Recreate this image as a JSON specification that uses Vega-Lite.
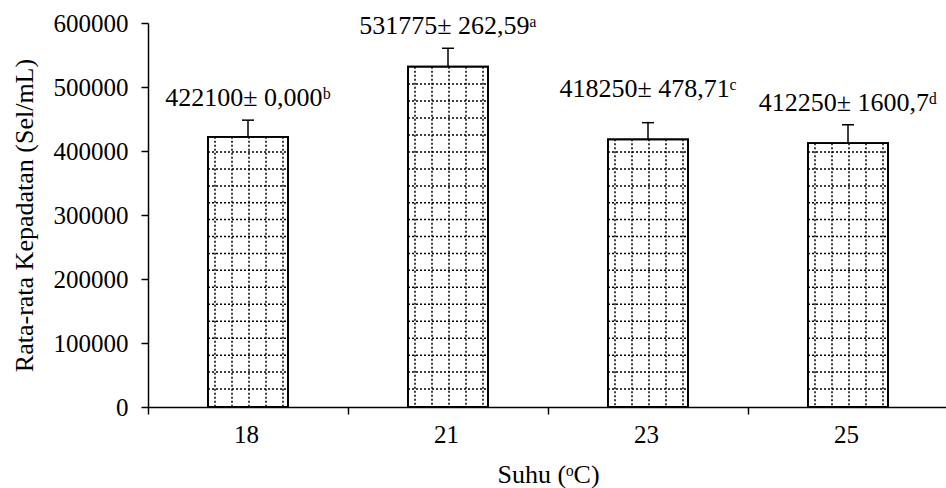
{
"$schema": "https://vega.github.io/schema/vega-lite/v6.json",
"width": 800, "height": 384,
"autosize": "none",
"padding": {"left": 148, "top": 23, "right": 0, "bottom": 81},
"background": "white",
"config": {
  "font": "Liberation Serif",
  "view": {"stroke": null},
  "axis": {"labelFont": "Liberation Serif", "titleFont": "Liberation Serif", "labelColor": "black", "titleColor": "black", "domainColor": "black", "tickColor": "black", "labelFontSize": 25, "titleFontSize": 26, "titleFontWeight": "normal", "grid": false, "domainWidth": 1.5, "tickWidth": 1.5}
},
"data": {"values": [
  {"suhu": "18", "mean": 422100, "upper": 448200, "label": "422100± 0,000ᵇ"},
  {"suhu": "21", "mean": 531775, "upper": 560500, "label": "531775± 262,59ᵃ"},
  {"suhu": "23", "mean": 418250, "upper": 444250, "label": "418250± 478,71ᶜ"},
  {"suhu": "25", "mean": 412250, "upper": 441000, "label": "412250± 1600,7ᵈ"}
]},
"encoding": {
  "x": {"field": "suhu", "type": "ordinal", "scale": {"paddingInner": 0.6, "paddingOuter": 0.3},
        "axis": {"title": "Suhu (ᵒC)", "labelAngle": 0, "bandPosition": 0, "tickOffset": -60, "labelOffset": 58, "tickSize": 7, "labelPadding": 8, "titlePadding": 14}}
},
"layer": [
  {"mark": {"type": "bar", "fill": "white", "stroke": "black", "strokeWidth": 1.8},
   "encoding": {"y": {"field": "mean", "type": "quantitative", "scale": {"domain": [0, 600000], "nice": false},
     "axis": {"title": "Rata-rata Kepadatan (Sel/mL)", "values": [0, 100000, 200000, 300000, 400000, 500000, 600000], "format": "d", "tickSize": 7, "labelPadding": 13, "titlePadding": 16}}}},
  {"mark": {"type": "rule", "color": "black", "strokeWidth": 1.5, "strokeDash": [2, 2], "xOffset": -33}, "encoding": {"y": {"field": "mean", "type": "quantitative"}, "y2": {"datum": 0}}},
  {"mark": {"type": "rule", "color": "black", "strokeWidth": 1.5, "strokeDash": [2, 2], "xOffset": -16}, "encoding": {"y": {"field": "mean", "type": "quantitative"}, "y2": {"datum": 0}}},
  {"mark": {"type": "rule", "color": "black", "strokeWidth": 1.5, "strokeDash": [2, 2], "xOffset": 1}, "encoding": {"y": {"field": "mean", "type": "quantitative"}, "y2": {"datum": 0}}},
  {"mark": {"type": "rule", "color": "black", "strokeWidth": 1.5, "strokeDash": [2, 2], "xOffset": 18}, "encoding": {"y": {"field": "mean", "type": "quantitative"}, "y2": {"datum": 0}}},
  {"mark": {"type": "rule", "color": "black", "strokeWidth": 1.5, "strokeDash": [2, 2], "xOffset": 35}, "encoding": {"y": {"field": "mean", "type": "quantitative"}, "y2": {"datum": 0}}},
  {"transform": [{"filter": "datum.mean > 28000"}], "mark": {"type": "rule", "color": "black", "strokeWidth": 1.5, "strokeDash": [2, 2], "xOffset": -40, "x2Offset": 40}, "encoding": {"x": {"field": "suhu", "type": "ordinal"}, "x2": {"field": "suhu"}, "y": {"datum": 28000, "type": "quantitative"}}},
  {"transform": [{"filter": "datum.mean > 54500"}], "mark": {"type": "rule", "color": "black", "strokeWidth": 1.5, "strokeDash": [2, 2], "xOffset": -40, "x2Offset": 40}, "encoding": {"x": {"field": "suhu", "type": "ordinal"}, "x2": {"field": "suhu"}, "y": {"datum": 54500, "type": "quantitative"}}},
  {"transform": [{"filter": "datum.mean > 81000"}], "mark": {"type": "rule", "color": "black", "strokeWidth": 1.5, "strokeDash": [2, 2], "xOffset": -40, "x2Offset": 40}, "encoding": {"x": {"field": "suhu", "type": "ordinal"}, "x2": {"field": "suhu"}, "y": {"datum": 81000, "type": "quantitative"}}},
  {"transform": [{"filter": "datum.mean > 107500"}], "mark": {"type": "rule", "color": "black", "strokeWidth": 1.5, "strokeDash": [2, 2], "xOffset": -40, "x2Offset": 40}, "encoding": {"x": {"field": "suhu", "type": "ordinal"}, "x2": {"field": "suhu"}, "y": {"datum": 107500, "type": "quantitative"}}},
  {"transform": [{"filter": "datum.mean > 134000"}], "mark": {"type": "rule", "color": "black", "strokeWidth": 1.5, "strokeDash": [2, 2], "xOffset": -40, "x2Offset": 40}, "encoding": {"x": {"field": "suhu", "type": "ordinal"}, "x2": {"field": "suhu"}, "y": {"datum": 134000, "type": "quantitative"}}},
  {"transform": [{"filter": "datum.mean > 160500"}], "mark": {"type": "rule", "color": "black", "strokeWidth": 1.5, "strokeDash": [2, 2], "xOffset": -40, "x2Offset": 40}, "encoding": {"x": {"field": "suhu", "type": "ordinal"}, "x2": {"field": "suhu"}, "y": {"datum": 160500, "type": "quantitative"}}},
  {"transform": [{"filter": "datum.mean > 187000"}], "mark": {"type": "rule", "color": "black", "strokeWidth": 1.5, "strokeDash": [2, 2], "xOffset": -40, "x2Offset": 40}, "encoding": {"x": {"field": "suhu", "type": "ordinal"}, "x2": {"field": "suhu"}, "y": {"datum": 187000, "type": "quantitative"}}},
  {"transform": [{"filter": "datum.mean > 213500"}], "mark": {"type": "rule", "color": "black", "strokeWidth": 1.5, "strokeDash": [2, 2], "xOffset": -40, "x2Offset": 40}, "encoding": {"x": {"field": "suhu", "type": "ordinal"}, "x2": {"field": "suhu"}, "y": {"datum": 213500, "type": "quantitative"}}},
  {"transform": [{"filter": "datum.mean > 240000"}], "mark": {"type": "rule", "color": "black", "strokeWidth": 1.5, "strokeDash": [2, 2], "xOffset": -40, "x2Offset": 40}, "encoding": {"x": {"field": "suhu", "type": "ordinal"}, "x2": {"field": "suhu"}, "y": {"datum": 240000, "type": "quantitative"}}},
  {"transform": [{"filter": "datum.mean > 266500"}], "mark": {"type": "rule", "color": "black", "strokeWidth": 1.5, "strokeDash": [2, 2], "xOffset": -40, "x2Offset": 40}, "encoding": {"x": {"field": "suhu", "type": "ordinal"}, "x2": {"field": "suhu"}, "y": {"datum": 266500, "type": "quantitative"}}},
  {"transform": [{"filter": "datum.mean > 293000"}], "mark": {"type": "rule", "color": "black", "strokeWidth": 1.5, "strokeDash": [2, 2], "xOffset": -40, "x2Offset": 40}, "encoding": {"x": {"field": "suhu", "type": "ordinal"}, "x2": {"field": "suhu"}, "y": {"datum": 293000, "type": "quantitative"}}},
  {"transform": [{"filter": "datum.mean > 319000"}], "mark": {"type": "rule", "color": "black", "strokeWidth": 1.5, "strokeDash": [2, 2], "xOffset": -40, "x2Offset": 40}, "encoding": {"x": {"field": "suhu", "type": "ordinal"}, "x2": {"field": "suhu"}, "y": {"datum": 319000, "type": "quantitative"}}},
  {"transform": [{"filter": "datum.mean > 345500"}], "mark": {"type": "rule", "color": "black", "strokeWidth": 1.5, "strokeDash": [2, 2], "xOffset": -40, "x2Offset": 40}, "encoding": {"x": {"field": "suhu", "type": "ordinal"}, "x2": {"field": "suhu"}, "y": {"datum": 345500, "type": "quantitative"}}},
  {"transform": [{"filter": "datum.mean > 372000"}], "mark": {"type": "rule", "color": "black", "strokeWidth": 1.5, "strokeDash": [2, 2], "xOffset": -40, "x2Offset": 40}, "encoding": {"x": {"field": "suhu", "type": "ordinal"}, "x2": {"field": "suhu"}, "y": {"datum": 372000, "type": "quantitative"}}},
  {"transform": [{"filter": "datum.mean > 398500"}], "mark": {"type": "rule", "color": "black", "strokeWidth": 1.5, "strokeDash": [2, 2], "xOffset": -40, "x2Offset": 40}, "encoding": {"x": {"field": "suhu", "type": "ordinal"}, "x2": {"field": "suhu"}, "y": {"datum": 398500, "type": "quantitative"}}},
  {"transform": [{"filter": "datum.mean > 425000"}], "mark": {"type": "rule", "color": "black", "strokeWidth": 1.5, "strokeDash": [2, 2], "xOffset": -40, "x2Offset": 40}, "encoding": {"x": {"field": "suhu", "type": "ordinal"}, "x2": {"field": "suhu"}, "y": {"datum": 425000, "type": "quantitative"}}},
  {"transform": [{"filter": "datum.mean > 451500"}], "mark": {"type": "rule", "color": "black", "strokeWidth": 1.5, "strokeDash": [2, 2], "xOffset": -40, "x2Offset": 40}, "encoding": {"x": {"field": "suhu", "type": "ordinal"}, "x2": {"field": "suhu"}, "y": {"datum": 451500, "type": "quantitative"}}},
  {"transform": [{"filter": "datum.mean > 478000"}], "mark": {"type": "rule", "color": "black", "strokeWidth": 1.5, "strokeDash": [2, 2], "xOffset": -40, "x2Offset": 40}, "encoding": {"x": {"field": "suhu", "type": "ordinal"}, "x2": {"field": "suhu"}, "y": {"datum": 478000, "type": "quantitative"}}},
  {"transform": [{"filter": "datum.mean > 504500"}], "mark": {"type": "rule", "color": "black", "strokeWidth": 1.5, "strokeDash": [2, 2], "xOffset": -40, "x2Offset": 40}, "encoding": {"x": {"field": "suhu", "type": "ordinal"}, "x2": {"field": "suhu"}, "y": {"datum": 504500, "type": "quantitative"}}},
  {"mark": {"type": "bar", "fill": "transparent", "stroke": "black", "strokeWidth": 1.8}, "encoding": {"y": {"field": "mean", "type": "quantitative"}}},
  {"mark": {"type": "rule", "color": "black", "strokeWidth": 1.5}, "encoding": {"y": {"field": "mean", "type": "quantitative"}, "y2": {"field": "upper"}}},
  {"mark": {"type": "rule", "color": "black", "strokeWidth": 1.5, "xOffset": -6, "x2Offset": 6}, "encoding": {"x": {"field": "suhu", "type": "ordinal"}, "x2": {"field": "suhu"}, "y": {"field": "upper", "type": "quantitative"}}},
  {"transform": [{"filter": "datum.suhu != '23'"}], "mark": {"type": "text", "font": "Liberation Serif", "fontSize": 26, "color": "black", "baseline": "alphabetic", "dy": -14}, "encoding": {"y": {"field": "upper", "type": "quantitative"}, "text": {"field": "label"}}},
  {"transform": [{"filter": "datum.suhu == '23'"}], "mark": {"type": "text", "font": "Liberation Serif", "fontSize": 26, "color": "black", "baseline": "alphabetic", "dy": -26}, "encoding": {"y": {"field": "upper", "type": "quantitative"}, "text": {"field": "label"}}}
]
}
